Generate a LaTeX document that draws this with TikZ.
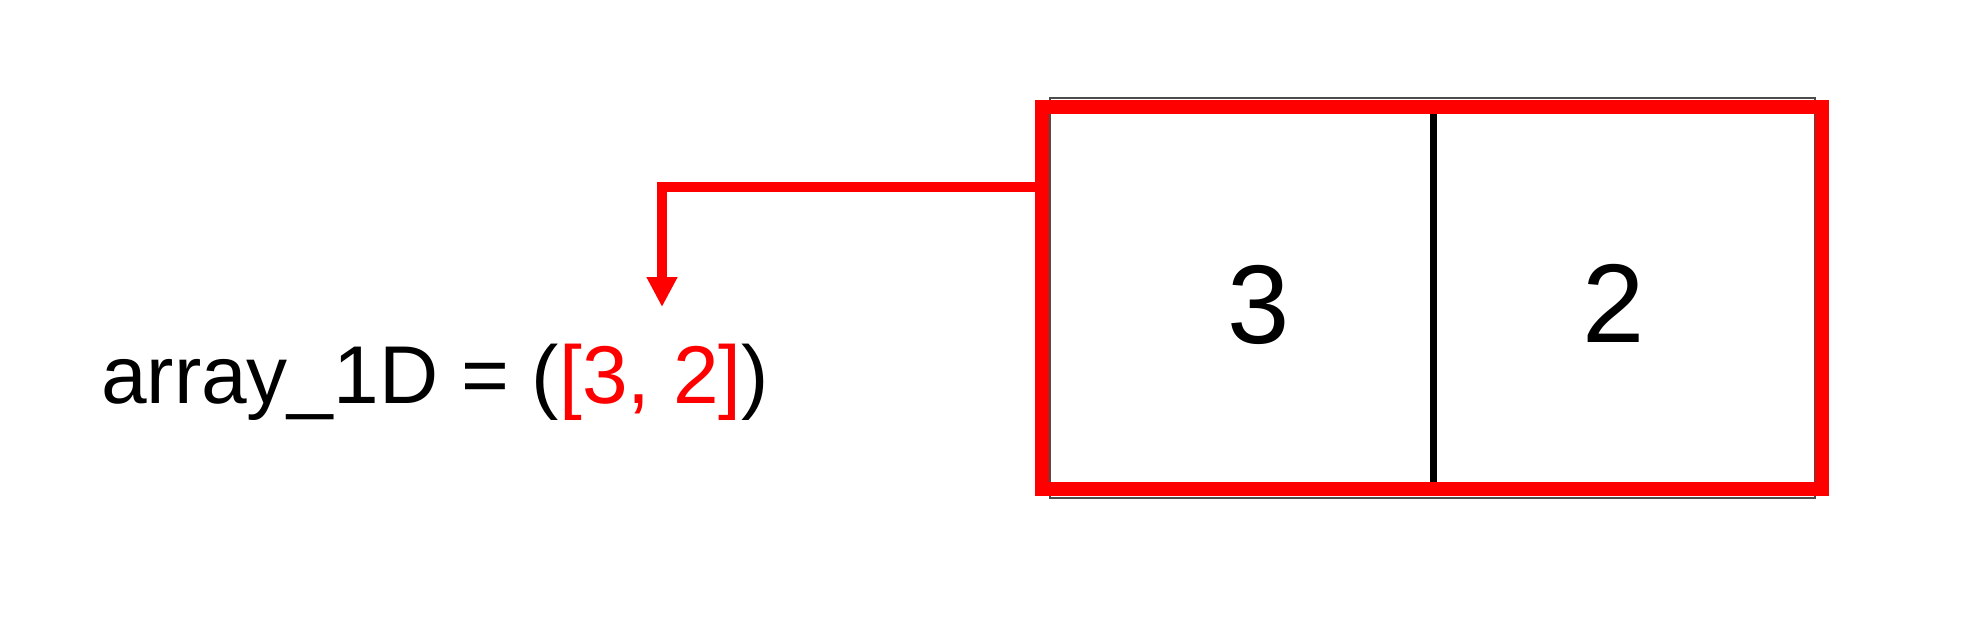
\documentclass[tikz,border=0pt]{standalone}
\usepackage{fontspec}
\setmainfont{Liberation Sans}
\usetikzlibrary{arrows.meta}
\definecolor{arrred}{RGB}{255,0,0}
\tikzset{
  cellbox/.style={draw=arrred,line width=14pt,inner sep=0pt,outer sep=0pt,minimum width=780pt,minimum height=382pt},
  digit/.style={inner sep=0pt,font=\fontsize{112}{134}\selectfont},
  link/.style={draw=arrred,line width=10pt,-{Triangle[length=30pt,width=29pt]}},
  divider/.style={line width=7pt,black}
}
\begin{document}
\begin{tikzpicture}[x=1pt,y=-1pt]
\useasboundingbox (0,0) rectangle (1983,618);
\draw[black!70,line width=2.5pt] (1050,98) rectangle (1815,498);
\node[cellbox] (arr) at (1432,298) {};
\draw[divider] ([xshift=1pt,yshift=-7pt]arr.north) -- ([xshift=1pt,yshift=7pt]arr.south);
\node[digit] (first) at (1259,305) {3};
\node[digit] (second) at (1614,303) {2};
\node[anchor=base west,inner sep=0pt,font=\fontsize{82}{98}\selectfont] (code) at (101,403) {array\_1D = (\textcolor{arrred}{[3, 2]})};
\coordinate (out) at (1042,187);
\coordinate (tip) at (662,307);
\draw[link] (out) -- (out -| tip) -- (tip);
\end{tikzpicture}
\end{document}
